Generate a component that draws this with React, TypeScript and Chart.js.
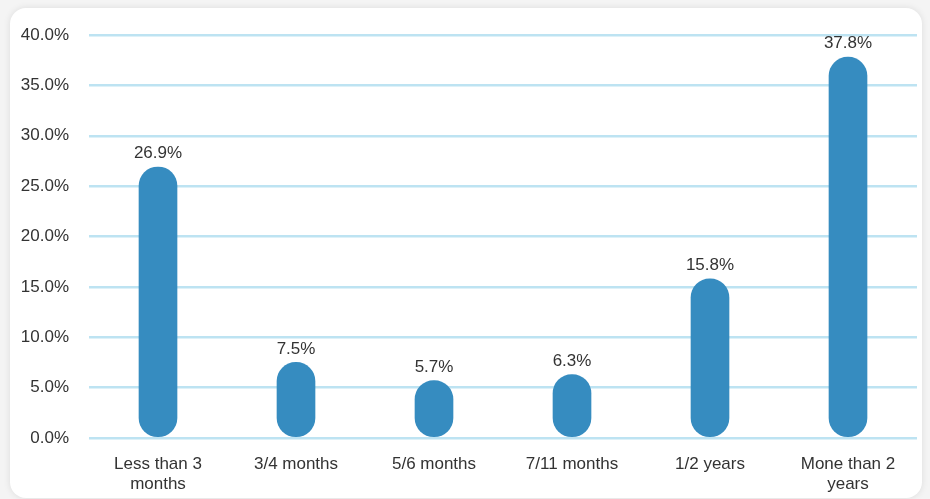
import React, { useEffect, useRef } from "react";
import { Chart, registerables } from "chart.js";

Chart.register(...registerables);

const categories: (string | string[])[] = [
  ["Less than 3", "months"],
  "3/4 months",
  "5/6 months",
  "7/11 months",
  "1/2 years",
  ["Mone than 2", "years"],
];
const values: number[] = [26.9, 7.5, 5.7, 6.3, 15.8, 37.8];
const yTicks: number[] = [0, 5, 10, 15, 20, 25, 30, 35, 40];

const FONT = "'Liberation Sans', Arial, Helvetica, sans-serif";

const valueLabels = {
  id: "valueLabels",
  afterDatasetsDraw(chart: any) {
    const ctx = chart.ctx;
    const meta = chart.getDatasetMeta(0);
    ctx.save();
    ctx.font = `17px ${FONT}`;
    ctx.fillStyle = "#333333";
    ctx.textAlign = "center";
    ctx.textBaseline = "bottom";
    meta.data.forEach((bar: any, i: number) => {
      ctx.fillText(values[i].toFixed(1) + "%", bar.x, bar.y - 5);
    });
    ctx.restore();
  },
};

export default function App() {
  const ref = useRef<HTMLCanvasElement | null>(null);
  useEffect(() => {
    if (!ref.current) return;
    const chart = new Chart(ref.current, {
      type: "bar",
      data: {
        labels: categories,
        datasets: [
          {
            data: values,
            backgroundColor: "#368cc0",
            borderRadius: 19,
            borderSkipped: false,
            barThickness: 38,
          },
        ],
      },
      options: {
        animation: false,
        responsive: false,
        maintainAspectRatio: false,
        layout: { padding: { left: 21, right: 13, top: 35, bottom: 4 } },
        plugins: { legend: { display: false }, tooltip: { enabled: false } },
        scales: {
          x: {
            grid: { display: false, drawTicks: false },
            border: { display: false },
            afterFit: (s: any) => {
              s.height = 57;
              s.paddingLeft = 0;
              s.paddingRight = 0;
            },
            ticks: {
              color: "#333333",
              font: { family: FONT, size: 17 },
              padding: 16,
              maxRotation: 0,
              autoSkip: false,
            },
          },
          y: {
            min: 0,
            max: 40,
            afterBuildTicks: (axis: any) => {
              axis.ticks = yTicks.map((v) => ({ value: v }));
            },
            afterFit: (s: any) => {
              s.width = 68;
              s.paddingTop = 0;
              s.paddingBottom = 0;
            },
            grid: { color: "#bde3f2", lineWidth: 2.5, drawTicks: false },
            border: { display: false },
            ticks: {
              color: "#333333",
              font: { family: FONT, size: 17 },
              padding: 20,
              callback: (v: any) => Number(v).toFixed(1) + "%",
            },
          },
        },
      },
      plugins: [valueLabels],
    });
    return () => chart.destroy();
  }, []);

  return (
    <div style={{ position: "fixed", left: 0, top: 0, width: 930, height: 499, background: "#f4f4f4", overflow: "hidden" }}>
      <div
        style={{
          position: "absolute",
          left: 10,
          top: 8,
          width: 912,
          height: 490,
          background: "#ffffff",
          borderRadius: 16,
          boxShadow: "0 0 7px rgba(0,0,0,0.10)",
        }}
      />
      <canvas ref={ref} width={930} height={499} style={{ position: "absolute", left: 0, top: 0 }} />
    </div>
  );
}
